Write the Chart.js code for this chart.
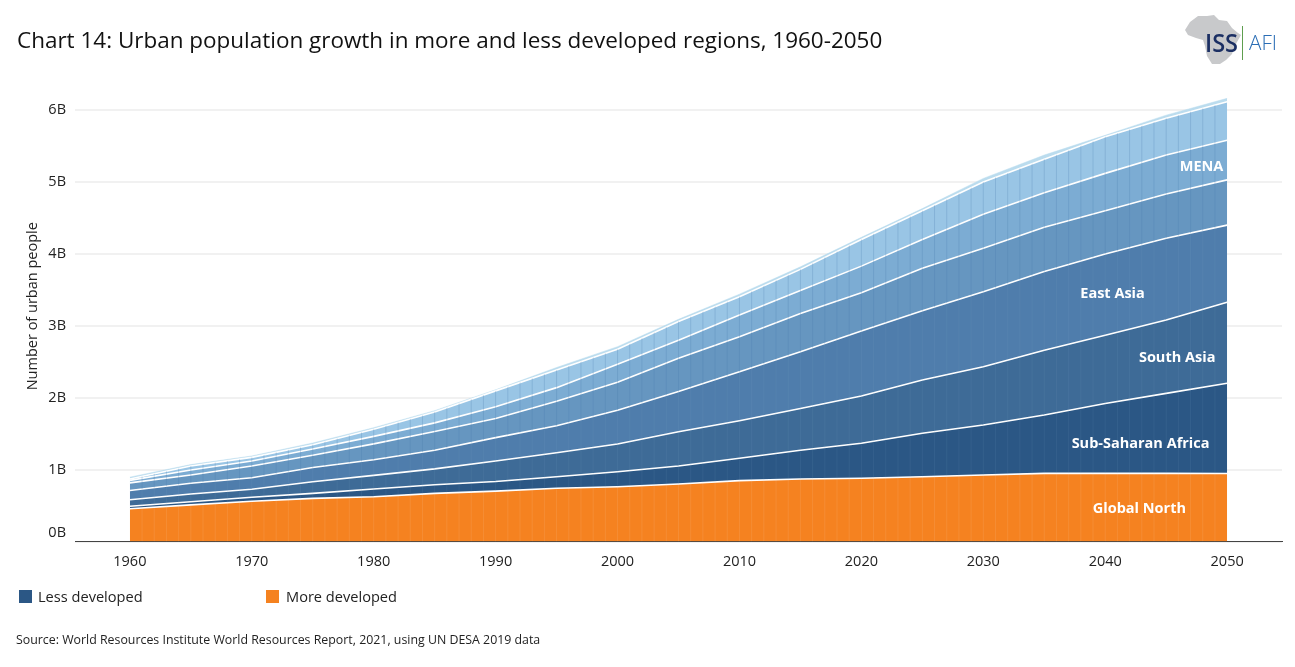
<!DOCTYPE html>
<html><head><meta charset="utf-8">
<style>
html,body{margin:0;padding:0;background:#fff;width:1295px;height:667px;overflow:hidden;font-family:"Open Sans",sans-serif;color:#222}
#wrap{position:relative;width:1295px;height:667px}
canvas{position:absolute;left:0;top:0}
.t{position:absolute;white-space:nowrap}
#title{left:17px;top:25px;font-size:22.47px;line-height:30px;color:#111}
#source{left:16px;top:631px;font-size:12.36px;line-height:18px;color:#222}
.lg{top:586px;font-size:14.6px;line-height:20px;color:#222}
.sw{position:absolute;top:590px;width:13px;height:13px}
#logo{position:absolute;left:1180px;top:10px}
</style></head><body>
<div id="wrap">
<canvas id="c" width="1295" height="667"></canvas>
<div class="t" id="title">Chart 14: Urban population growth in more and less developed regions, 1960-2050</div>
<svg id="logo" width="110" height="60" viewBox="1180 10 110 60">
<polygon fill="#C8C9CB" points="1190,22 1198,16 1207,16 1214,15 1219,20 1227,21 1232,28 1238,33 1241,35 1237,42 1234,48 1232,54 1226,60 1220,64 1212,64 1207,56 1205,46 1203,40 1196,38 1188,35 1185,30"/>
<text x="1205" y="52" font-family="Open Sans" font-size="26" font-weight="600" fill="#1B2F63" textLength="33" lengthAdjust="spacingAndGlyphs">ISS</text>
<rect x="1242" y="26" width="1" height="34" fill="#5E9E4E"/>
<text x="1249" y="50" font-family="Open Sans" font-size="20" font-weight="300" fill="#2A6DB5" textLength="28" lengthAdjust="spacingAndGlyphs">AFI</text>
</svg>
<div class="sw" style="left:19px;background:#2B5785"></div><div class="t lg" style="left:38px">Less developed</div>
<div class="sw" style="left:266px;background:#F58220"></div><div class="t lg" style="left:286px">More developed</div>
<div class="t" id="source">Source: World Resources Institute World Resources Report, 2021, using UN DESA 2019 data</div>
</div>
<script src="https://cdn.jsdelivr.net/npm/chart.js@4"></script>
<script>
const years=[1960,1965,1970,1975,1980,1985,1990,1995,2000,2005,2010,2015,2020,2025,2030,2035,2040,2045,2050];
const tickYears=[1960,1970,1980,1990,2000,2010,2020,2030,2040,2050];
const yTicks=[0,1,2,3,4,5,6];
const globalNorth=[.456,.51,.56,.60,.623,.67,.70,.74,.762,.80,.846,.87,.879,.90,.925,.948,.948,.948,.946];
const subSaharanAfrica=[.034,.043,.055,.07,.107,.12,.135,.16,.208,.25,.311,.40,.487,.605,.695,.812,.972,1.112,1.254];
const southAsia=[.09,.107,.111,.16,.19,.22,.285,.335,.386,.477,.523,.58,.658,.741,.81,.90,.95,1.02,1.127];
const eastAsia=[.13,.15,.161,.20,.218,.26,.325,.375,.469,.558,.682,.79,.904,.964,1.044,1.095,1.13,1.137,1.073];
const otherAsia=[.105,.115,.163,.17,.22,.26,.265,.34,.39,.463,.486,.53,.532,.59,.606,.615,.60,.616,.63];
const mena=[.035,.07,.07,.086,.104,.12,.165,.19,.25,.252,.302,.32,.37,.40,.47,.48,.52,.542,.55];
const latinAmerica=[.02,.055,.05,.059,.098,.15,.22,.245,.208,.26,.255,.295,.37,.40,.45,.466,.51,.511,.537];
const oceania=[.025,.02,.02,.025,.023,.02,.015,.035,.037,.03,.035,.035,.03,.03,.05,.059,.02,.044,.047];
const bandLabels=[
 {text:"Global North",year:2042.8,value:.452},
 {text:"Sub-Saharan Africa",year:2042.9,value:1.356},
 {text:"South Asia",year:2045.9,value:2.552},
 {text:"East Asia",year:2040.6,value:3.442},
 {text:"MENA",year:2047.9,value:5.206}
];
const series=[
 ["Global North",globalNorth,"#F58220"],
 ["Sub-Saharan Africa",subSaharanAfrica,"#2B5785"],
 ["South Asia",southAsia,"#3E6B97"],
 ["East Asia",eastAsia,"#4F7DAC"],
 ["Other Asia",otherAsia,"#6696C0"],
 ["MENA",mena,"#7CACD3"],
 ["Latin America",latinAmerica,"#99C5E5"],
 ["Oceania",oceania,"#BBDCEE"]
];
const font={family:"'Open Sans',sans-serif",size:14.5};

const seams={id:"seams",afterDatasetsDraw(chart){
  const {ctx,scales:{x},chartArea:a}=chart;
  const under=(i)=>{const pts=chart.getDatasetMeta(i).data;ctx.beginPath();pts.forEach((p,k)=>k?ctx.lineTo(p.x,p.y):ctx.moveTo(p.x,p.y));
    ctx.lineTo(pts[pts.length-1].x,a.bottom);ctx.lineTo(pts[0].x,a.bottom);ctx.closePath();};
  const stroke=(col)=>{ctx.strokeStyle=col;ctx.lineWidth=1;ctx.beginPath();
    for(let yr=years[0]+1;yr<years[years.length-1];yr++){const px=x.getPixelForValue(yr);ctx.moveTo(px,a.top);ctx.lineTo(px,a.bottom);}ctx.stroke();};
  ctx.save();
  ctx.save();under(6);ctx.clip();under(3);ctx.rect(0,0,chart.width,chart.height);ctx.clip("evenodd");stroke("rgba(70,120,170,.24)");ctx.restore();
  ctx.save();under(3);ctx.clip();under(0);ctx.rect(0,0,chart.width,chart.height);ctx.clip("evenodd");stroke("rgba(140,175,210,.10)");ctx.restore();
  ctx.save();under(0);ctx.clip();stroke("rgba(255,255,255,.09)");ctx.restore();
  ctx.restore();
}};
const direct={id:"direct",afterDraw(chart){
  const {ctx,scales:{x,y}}=chart;ctx.save();ctx.fillStyle="#fff";ctx.font="700 14.5px 'Open Sans',sans-serif";ctx.textAlign="center";ctx.textBaseline="middle";
  bandLabels.forEach(l=>ctx.fillText(l.text,x.getPixelForValue(l.year),y.getPixelForValue(l.value)));ctx.restore();
}};
new Chart(document.getElementById("c"),{
 type:"line",
 data:{labels:years,datasets:series.map((s,i)=>({label:s[0],data:s[1].map((v,k)=>({x:years[k],y:v})),backgroundColor:s[2],
   borderColor:i===series.length-1?s[2]:"#fff",borderWidth:i===series.length-1?0.5:1.6,fill:i?"-1":"origin",pointRadius:0,tension:0}))},
 options:{responsive:false,animation:false,devicePixelRatio:window.devicePixelRatio||1,
  layout:{padding:{top:71,right:13,left:0,bottom:0}},
  plugins:{legend:{display:false},tooltip:{enabled:false}},
  scales:{
   x:{type:"linear",min:1955.5,max:2054.5,grid:{display:false},border:{color:"#444",width:1},
      afterBuildTicks(s){s.ticks=tickYears.map(v=>({value:v}));},
      afterFit(s){s.height=125.5;},
      ticks:{font,color:"#222",autoSkip:false,maxRotation:0,padding:4,callback:v=>String(v)}},
   y:{stacked:true,min:0,max:6.544,grid:{color:"#F1F1F1",lineWidth:2,drawTicks:false},border:{display:false},
      afterBuildTicks(s){s.ticks=yTicks.map(v=>({value:v}));},
      afterFit(s){s.width=75;},
      title:{display:true,text:"Number of urban people",font,color:"#222",padding:{top:24,bottom:0}},
      ticks:{font,color:"#222",padding:9,callback:v=>v===0?["0B",""]:v+"B"}}
  }
 },
 plugins:[seams,direct]
});
</script>
</body></html>
